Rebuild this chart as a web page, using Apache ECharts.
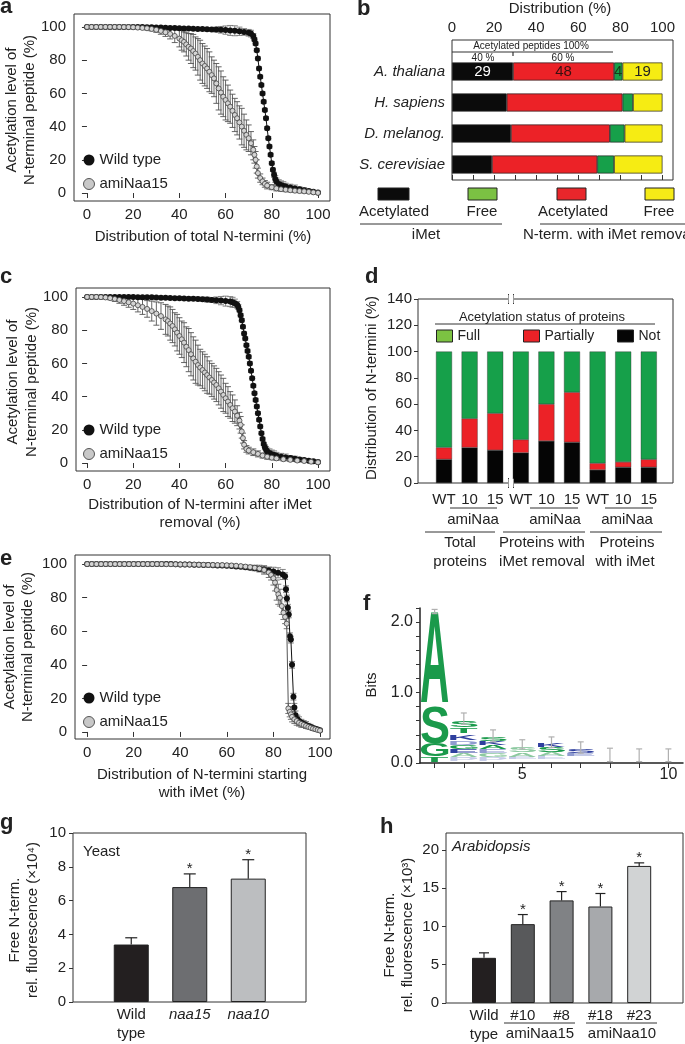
<!DOCTYPE html>
<html><head><meta charset="utf-8">
<script src="https://cdn.jsdelivr.net/npm/echarts@6/dist/echarts.min.js"></script>
<style>html,body{margin:0;padding:0;background:#fff}#c{width:685px;height:1044px}</style>
</head><body><div id="c"></div>
<script>
// ---------------- DATA ----------------
// Panel a: [distribution %, acetylation %, error]
const aWildType = [[0,100,.3],[2,100,.3],[4,100,.3],[6,100,.3],[8,100,.3],[10,100,.3],[12,100,.3],[14,100,.3],[16,100,.3],[18,100,.3],[20,100,.3],
[22,99.9,.5],[24,99.9,.5],[26,99.8,.5],[28,99.8,.5],[30,99.7,.5],[32,99.6,.5],[34,99.5,.5],[36,99.4,.5],[38,99.3,.5],[40,99.2,.5],[42,99.1,.5],[44,99,.5],[46,98.9,.5],[48,98.8,.5],[50,98.7,.8],[52,98.6,1],[54,98.5,1],[56,98.4,1.5],[58,98.3,2],[60,98.1,2.5],[62,97.9,3],[64,97.7,3],[66,97.4,2.5],[68,97,2],[70,96.5,2],[71,96,2],[72,94.5,1.5],
[72.5,92.5,1],[73,90,1],[73.5,86,1],[74,81,1],[74.5,75,1],[75,70,1],[75.5,65,1],[76,60,1],[76.5,55,1],[77,50,1],[77.5,45,1],[78,39,1],[78.5,33,1],[79,28,1],[79.5,23,1],[80,18,1],[80.5,14,1],[81,11,1.5],[81.5,8.5,2],[82,7,2],
[83,5.5,2.5],[84,4.8,2.5],[85,4.3,2.5],[86,3.9,2],[88,3.3,2],[90,2.8,2],[92,2.2,1.5],[94,1.7,1.5],[96,1.2,1],[98,.7,.5],[100,.3,.3]];
const aAmiNaa15 = [[0,100,.3],[2,100,.3],[4,100,.3],[6,100,.3],[8,100,.3],[10,100,.3],[12,100,.3],[14,100,.3],[16,99.9,.4],[18,99.9,.5],[20,99.8,.5],[22,99.6,.6],[24,99.4,.8],[26,99.2,1],[28,98.8,1.2],[30,98.3,1.5],[32,97.6,2],[34,96.8,2.5],[36,95.8,3],[38,94.6,4],[40,93,5],[41,92,6],[42,91,6],[43,89.5,7],[44,88,8],[45,87,9],[46,85.5,10],[47,84,10],[48,82,11],[49,80,12],[50,78,12],[51,76.5,12],[52,75,12],[53,73,12],[54,71,11],[55,69,11],[56,66,12],[57,63,13],[58,60.5,13],[59,58,12],[60,56,12],[61,54,11],[62,52,10],[63,49.5,10],[64,47,10],[65,45,10],[66,42.5,10],[67,40,11],[68,37.5,10],[69,35,9],[70,33,8],[71,30,7],[72,26,6],[72.5,23,5],[73,20,5],[73.5,16,4],[74,12,3],[75,9,2.5],[76,7,2],[77,5.5,2],[78,4.5,2],[80,3.5,1.5],[82,2.8,1.5],[84,2.3,1.2],[86,2,1.2],[88,1.7,1],[90,1.4,1],[92,1.2,1],[94,1,.8],[96,.7,.6],[98,.4,.5],[100,.1,.3]];

// Panel b
const bSpecies = ['A. thaliana','H. sapiens','D. melanog.','S. cerevisiae'];
const bAcetylatedIMet = [29,26,28,19];
const bAcetylatedRemoved = [48,55,47,50];
const bFreeIMet = [4,5,7,8];
const bFreeRemoved = [19,14,18,23];
const bTicks = [0,20,40,60,80,100];

// Panel c
const cWildType = [[0,100,.3],[2,100,.3],[4,100,.3],[6,100,.3],[8,100,.3],[10,100,.3],[12,100,.3],[14,100,.3],[16,100,.3],[18,100,.3],[20,100,.3],[22,99.9,.4],[24,99.9,.4],[26,99.8,.5],[28,99.8,.5],[30,99.7,.5],[32,99.6,.5],[34,99.5,.5],[36,99.4,.6],[38,99.3,.6],[40,99.2,.7],[42,99.1,.8],[44,99,.8],[46,98.9,1],[48,98.8,1],[50,98.6,1.2],[52,98.4,1.5],[54,98.2,1.5],[56,98,2],[58,97.8,2.5],[60,97.5,3],[62,97.2,3],[63,96.8,3],[64,96.2,2.5],[65,95.3,2],[65.5,94,1.5],[66,92,1],[66.5,89,1],[67,86,1],[67.5,82,1],[68,78,1],[68.5,75,1],[69,71,1],[69.5,67.5,1],[70,64,1],[70.5,60,1],[71,55.5,1],[71.5,51,1],[72,46.5,1],[72.5,42,1],[73,38,1],[73.5,34,1],[74,30,1],[74.5,26,1],[75,22,1],[75.5,18,1],[76,14.5,1],[76.5,11.5,1],[77,9.5,1.5],[77.5,8,2],[78,7,2],[79,6,2.5],[80,5.3,2.5],[81,4.8,2.5],[82,4.4,2],[84,3.8,2],[86,3.4,2],[88,3,1.5],[90,2.6,1.5],[92,2.2,1.2],[94,1.8,1],[96,1.4,.8],[98,1,.5],[100,.6,.3]];
const cAmiNaa15 = [[0,100,.3],[2,100,.3],[4,100,.3],[6,99.9,.4],[8,99.7,.6],[10,99.3,1],[12,98.8,1.5],[14,98.2,2],[16,97.5,2.5],[18,96.8,3],[20,96,3.5],[22,95,4],[24,94,4.5],[26,92.8,5],[28,91.5,6],[30,90,7],[32,88.5,8],[34,86.5,9],[35,85.5,9],[36,84,10],[37,82.5,10],[38,80.5,10],[39,78.5,11],[40,76.5,11],[41,74.5,11],[42,72.5,12],[43,70,12],[44,68,13],[45,65.5,13],[46,63,13],[47,61,13],[48,59,12],[49,57.5,11],[50,56,11],[51,54.5,11],[52,53,11],[53,51.5,10],[54,50,10],[55,48.5,10],[56,47,10],[57,45,10],[58,43,10],[59,41,10],[60,39,9],[61,37,9],[62,35,8],[63,33,8],[64,31,7],[65,28.5,6],[66,25.5,5],[66.5,23,5],[67,19,4],[67.5,15,3],[68,11,2.5],[69,8.5,2],[70,7.5,2],[72,6.5,2],[74,5.5,1.8],[76,4.5,1.5],[78,3.8,1.5],[80,3.2,1.2],[82,2.8,1.2],[85,2.3,1],[88,1.9,1],[91,1.5,.8],[94,1.2,.6],[97,.8,.5],[100,.4,.3]];

// Panel d
const dCategories = ['WT','10','15','WT','10','15','WT','10','15'];
const dNot = [18,27,25,23,32,31,10,12,12];
const dPartially = [9,22,28,10,28,38,5,4,6];
const dFull = [73,51,47,67,40,31,85,84,82];

// Panel e
const eWildType = [[0,100,.2],[2,100,.2],[4,100,.2],[6,100,.2],[8,100,.2],[10,100,.2],[12,100,.2],[14,100,.2],[16,100,.2],[18,100,.2],[20,100,.2],[22,100,.2],[24,100,.2],[26,100,.2],[28,100,.2],[30,100,.2],[32,100,.2],[34,100,.2],[36,100,.2],[38,99.9,.2],[40,99.8,.3],[42,99.8,.3],[44,99.7,.3],[46,99.6,.4],[48,99.6,.4],[50,99.5,.5],[52,99.4,.5],[54,99.3,.5],[56,99.2,.6],[58,99.1,.6],[60,99,.7],[62,98.8,.8],[64,98.6,.8],[66,98.4,1],[68,98.1,1],[70,97.8,1.2],[72,97.5,1.5],[74,97.1,1.5],[76,96.7,2],[78,96.2,2],[80,95.6,2.5],[82,94.8,3],[84,93.8,3],[85,92.8,2],[85.4,85,2],[85.8,79.5,2],[86.2,74,2],[86.6,70,2],[87.1,57,2],[87.5,55,2],[88,40,2],[88.6,21,2],[89,14.5,2.5],[89.5,10,2.5],[90.3,7.5,2.5],[91,6.5,2.5],[92,5.5,2],[93,4.8,2],[94,4.2,2],[95,3.6,1.5],[96,3,1.5],[97,2.4,1],[98,1.9,1],[99,1.4,.5],[100,1,.3]];
const eAmiNaa15 = [[0,100,.2],[2,100,.2],[4,100,.2],[6,100,.2],[8,100,.2],[10,100,.2],[12,100,.2],[14,100,.2],[16,100,.2],[18,100,.2],[20,100,.2],[22,100,.2],[24,100,.2],[26,100,.2],[28,100,.2],[30,100,.2],[32,100,.2],[34,99.9,.2],[36,99.9,.2],[38,99.9,.2],[40,99.8,.2],[42,99.8,.2],[44,99.7,.2],[46,99.7,.2],[48,99.6,.2],[50,99.6,.3],[52,99.5,.3],[54,99.5,.3],[56,99.4,.3],[58,99.4,.3],[60,99.3,.3],[62,99.2,.4],[64,99,.5],[66,98.8,.6],[68,98.5,.8],[70,98.2,1],[72,97.8,1.5],[74,97.3,2],[76,96.5,2.5],[78,95,3],[79,93.5,3],[80,91.5,4],[80.7,89,5],[81.4,84.5,6],[82.1,82,6],[82.8,80,5],[83.6,75,5],[84.3,71,4],[85,68.5,4],[85.7,64.5,3],[86.4,14,3],[87,12,3],[87.5,10.5,3],[88,9,3],[89,7.5,2.5],[90,6.5,2.5],[91,5.5,2],[92,4.8,2],[93,4.2,1.5],[94,3.6,1.5],[95,3,1.2],[96,2.5,1],[97,2,1],[98,1.6,.8],[99,1.2,.5],[100,.8,.3]];
const curveTicks = [0,20,40,60,80,100];

// Panel f: sequence logo [position, letter, bottom bits, top bits, colour]
const fLetters = [
 [2,'T',0.02,0.09,'#1a9a4b'],[2,'G',0.09,0.27,'#1a9a4b'],[2,'S',0.28,0.80,'#1a9a4b'],[2,'A',0.86,2.15,'#1a9a4b'],
 [3,'P',0.03,0.08,'#c5cbe8'],[3,'A',0.08,0.14,'#8cc9a0'],[3,'E',0.14,0.20,'#2e3f9e'],[3,'G',0.20,0.26,'#1a9a4b'],[3,'D',0.26,0.32,'#8f9bd0'],[3,'K',0.33,0.41,'#2e3f9e'],[3,'T',0.42,0.50,'#1a9a4b'],[3,'S',0.51,0.60,'#1a9a4b'],
 [4,'P',0.03,0.08,'#c5cbe8'],[4,'G',0.08,0.14,'#8cc9a0'],[4,'E',0.14,0.20,'#8f9bd0'],[4,'A',0.20,0.26,'#1a9a4b'],[4,'K',0.26,0.31,'#2e3f9e'],[4,'S',0.31,0.36,'#1a9a4b'],
 [5,'E',0.05,0.09,'#c5cbe8'],[5,'A',0.09,0.15,'#8cc9a0'],[5,'S',0.15,0.23,'#8cc9a0'],
 [6,'E',0.05,0.10,'#c5cbe8'],[6,'A',0.10,0.16,'#8cc9a0'],[6,'S',0.16,0.23,'#1a9a4b'],[6,'K',0.23,0.29,'#2e3f9e'],
 [7,'E',0.10,0.14,'#8f9bd0'],[7,'S',0.14,0.19,'#2e3f9e']
];
const fErrors = [[2,2.12,2.18],[3,0.55,0.71],[4,0.30,0.47],[5,0.20,0.33],[6,0.22,0.37],[7,0.14,0.30],[8,0.02,0.21],[9,0.02,0.20],[10,0.02,0.20]];
const fYTicks = [0,0.2,0.4,0.6,0.8,1,1.2,1.4,1.6,1.8,2,2.2];
const fYLabels = [0,1,2];
const fXTicks = [2,3,4,5,6,7,8,9,10];
const fXLabels = [5,10];

// Panel g
const gStrains = ['Wild\ntype','naa15','naa10'];
const gValues = [3.4,6.8,7.3];
const gErrors = [0.4,0.78,1.12];
const gSignificant = [0,1,1];
const gTicks = [0,2,4,6,8,10];

// Panel h
const hLines = ['Wild\ntype','#10','#8','#18','#23'];
const hValues = [5.9,10.3,13.4,12.6,17.9];
const hErrors = [0.65,1.25,1.15,1.7,0.4];
const hSignificant = [0,1,1,1,1];
const hTicks = [0,5,10,15,20];

// ---------------- STYLE ----------------
const FONT = "'Liberation Sans', Arial, Helvetica, sans-serif";
const C = '#222';
const chart = echarts.init(document.getElementById('c'), null, {renderer:'canvas'});

const lab = (vals, margin, extra) => Object.assign({show:true, customValues:vals, fontSize:15, color:C, fontFamily:FONT, margin}, extra||{});
const tick = (vals, len, inside) => ({show:true, customValues:vals, length:len, inside:!!inside, lineStyle:{color:'#333', width:1}});
const hid = (g, min, max) => ({type:'value', gridIndex:g, min, max, show:false, splitLine:{show:false}});
const valAx = (g, min, max, ticks, margin, extra) => Object.assign({type:'value', gridIndex:g, min, max, splitLine:{show:false}, axisLine:{show:false}, axisTick:tick(ticks,5), axisLabel:lab(ticks,margin)}, extra||{});
const frame = (left, top, width, height) => ({left, top, width, height, show:true, borderColor:'#333', borderWidth:1, backgroundColor:'transparent', containLabel:false});
const noframe = (left, top, width, height) => ({left, top, width, height, show:false, containLabel:false});

const grids = [
 frame(74,14,256,187),      // 0 a
 frame(452,40,221,140),     // 1 b frame
 noframe(452,56,221,124),   // 2 b bars
 frame(76,288,254,183),     // 3 c
 frame(418,299,255,184),    // 4 d frame
 noframe(431.2,299,230.4,184), // 5 d bars
 frame(75,555,255,184),     // 6 e
 noframe(420,608,263,155),  // 7 f
 frame(73,833,233,169),     // 8 g frame
 noframe(102,833,175.5,169),// 9 g bars
 frame(446,833,237,170),    // 10 h frame
 noframe(464.6,833,194,170) // 11 h bars
];

const xAxis = [
 valAx(0,-5.6,105.2,curveTicks,6),
 {type:'value', gridIndex:1, position:'top', min:0, max:105, splitLine:{show:false}, axisLine:{show:false}, axisTick:{show:false}, axisLabel:lab(bTicks,5)},
 {type:'value', gridIndex:1, position:'bottom', min:0, max:105, splitLine:{show:false}, axisLine:{show:false}, axisTick:tick([0,10,20,30,40,50,60,70,80,90,100],5,true), axisLabel:{show:false}},
 hid(2,0,105),
 valAx(3,-4.8,105.2,curveTicks,6),
 hid(4,0,1),
 {type:'category', gridIndex:5, data:dCategories, axisLine:{show:false}, axisTick:{show:false}, axisLabel:{fontSize:15, color:C, fontFamily:FONT, margin:9, interval:0, hideOverlap:false}},
 valAx(6,-5.2,104.3,curveTicks,6),
 {type:'value', gridIndex:7, min:1.5, max:10.5, splitLine:{show:false}, axisLine:{show:true, lineStyle:{color:'#222', width:1.5}}, axisTick:tick(fXTicks,5), axisLabel:lab(fXLabels,4,{fontSize:16})},
 hid(8,0,1),
 {type:'category', gridIndex:9, data:gStrains, axisLine:{show:false}, axisTick:{show:false},
  axisLabel:{fontSize:15, color:C, fontFamily:FONT, margin:3, lineHeight:19, interval:0,
   formatter:(v,i)=> i===0 ? v : '{it|'+v+'}', rich:{it:{fontStyle:'italic', fontSize:15, color:C, fontFamily:FONT, lineHeight:19}}}},
 hid(10,0,1),
 {type:'category', gridIndex:11, data:hLines, axisLine:{show:false}, axisTick:{show:false},
  axisLabel:{fontSize:15, color:C, fontFamily:FONT, margin:3, lineHeight:19, interval:0}}
];

const yAxis = [
 valAx(0,-4.8,107.8,curveTicks,8),
 hid(1,0,1),
 {type:'category', gridIndex:2, data:bSpecies, inverse:true, axisLine:{show:false}, axisTick:{show:false}, axisLabel:{fontSize:15, fontStyle:'italic', color:C, fontFamily:FONT, margin:7}},
 valAx(3,-4.8,105.4,curveTicks,8),
 Object.assign(valAx(4,0,140,[0,20,40,60,80,100,120,140],6), {axisTick:tick([0,20,40,60,80,100,120,140],4)}),
 hid(5,0,140),
 valAx(6,-4.2,105.4,curveTicks,8),
 {type:'value', gridIndex:7, min:0, max:2.2, splitLine:{show:false}, axisLine:{show:true, lineStyle:{color:'#222', width:1.5}}, axisTick:tick(fYTicks,4), axisLabel:lab(fYLabels,7,{fontSize:16, formatter:v=>Number(v).toFixed(1)})},
 Object.assign(valAx(8,0,10,gTicks,7), {axisTick:tick(gTicks,4)}),
 hid(9,0,10),
 Object.assign(valAx(10,0,22.2,hTicks,7), {axisTick:tick(hTicks,4)}),
 hid(11,0,22.2)
];

// ---------- series helpers ----------
function curve(xi, yi, name, data) {
  const wt = name === 'Wild type';
  return {type:'line', name, xAxisIndex:xi, yAxisIndex:yi, data, encode:{x:0,y:1},
    symbol:'circle', showAllSymbol:true, symbolSize: wt?6:5, silent:true, z: wt?3:4,
    itemStyle: wt ? {color:'#111'} : {color:'#d4d4d4', borderColor:'#444', borderWidth:0.8},
    lineStyle: {color: wt?'#111':'#555', width:1}};
}
function errBars(xi, yi, data, color) {
  return {type:'custom', xAxisIndex:xi, yAxisIndex:yi, data, encode:{x:0,y:1}, silent:true, z:2,
    renderItem(params, api) {
      const x=api.value(0), y=api.value(1), e=api.value(2);
      const lo=api.coord([x,y-e]), hi=api.coord([x,y+e]); const w=3;
      const st={stroke:color, lineWidth:0.9};
      return {type:'group', children:[
        {type:'line', shape:{x1:lo[0],y1:lo[1],x2:hi[0],y2:hi[1]}, style:st},
        {type:'line', shape:{x1:lo[0]-w,y1:lo[1],x2:lo[0]+w,y2:lo[1]}, style:st},
        {type:'line', shape:{x1:hi[0]-w,y1:hi[1],x2:hi[0]+w,y2:hi[1]}, style:st}]};
    }};
}
function barErr(xi, yi, vals, errs, sig, capHalf) {
  return {type:'custom', xAxisIndex:xi, yAxisIndex:yi, data: vals.map((v,i)=>[i,v,errs[i],sig[i]]), encode:{x:0,y:1}, silent:true, z:5,
    renderItem(params, api) {
      const i=api.value(0), v=api.value(1), e=api.value(2), s=api.value(3);
      const b=api.coord([i,v]), t=api.coord([i,v+e]);
      const st={stroke:'#222', lineWidth:1.2};
      const ch=[{type:'line', shape:{x1:b[0],y1:b[1],x2:t[0],y2:t[1]}, style:st},
                {type:'line', shape:{x1:t[0]-capHalf,y1:t[1],x2:t[0]+capHalf,y2:t[1]}, style:st}];
      if (s) ch.push({type:'text', x:t[0], y:t[1]-5, style:{text:'*', font:'15px '+FONT, fill:'#222', align:'center', verticalAlign:'middle'}});
      return {type:'group', children:ch};
    }};
}
const mctx = document.createElement('canvas').getContext('2d');
mctx.font = 'bold 100px ' + FONT; mctx.textBaseline = 'middle'; mctx.textAlign = 'center';
const inkCache = {};
function ink(ch){ if(!inkCache[ch]){ const m=mctx.measureText(ch); inkCache[ch]={l:m.actualBoundingBoxLeft, r:m.actualBoundingBoxRight, a:m.actualBoundingBoxAscent, d:m.actualBoundingBoxDescent}; } return inkCache[ch]; }

const bColors = ['#0b0b0b','#ec2227','#16a04a','#f6ec13'];
function bSeries(name, vals, color, labColor) {
  return {type:'bar', name, xAxisIndex:3, yAxisIndex:2, stack:'b', barWidth:18, silent:true,
    itemStyle:{color, borderColor:'#222', borderWidth:0.7},
    label:{show:false, position:'inside', color:labColor, fontSize:15, fontFamily:FONT},
    data: vals.map((v,i)=> i===0 ? {value:v, label:{show:true}} : v)};
}
function dSeries(name, vals, color) {
  return {type:'bar', name, xAxisIndex:6, yAxisIndex:5, stack:'d', barWidth:16, silent:true,
    itemStyle:{color, borderColor:'#333', borderWidth:0.4}, data: vals};
}

const series = [
 // a
 errBars(0,0,aWildType,'#777'), errBars(0,0,aAmiNaa15,'#555'),
 curve(0,0,'Wild type',aWildType), curve(0,0,'amiNaa15',aAmiNaa15),
 // b
 bSeries('Acetylated iMet', bAcetylatedIMet, bColors[0], '#fff'),
 bSeries('Acetylated N-term. with iMet removal', bAcetylatedRemoved, bColors[1], '#3a1010'),
 bSeries('Free iMet', bFreeIMet, bColors[2], '#1a3a1a'),
 bSeries('Free N-term. with iMet removal', bFreeRemoved, bColors[3], '#222'),
 // c
 errBars(4,3,cWildType,'#777'), errBars(4,3,cAmiNaa15,'#555'),
 curve(4,3,'Wild type',cWildType), curve(4,3,'amiNaa15',cAmiNaa15),
 // d
 dSeries('Not', dNot, '#050505'), dSeries('Partially', dPartially, '#ec2227'), dSeries('Full', dFull, '#16a04a'),
 // e
 errBars(7,6,eWildType,'#777'), errBars(7,6,eAmiNaa15,'#666'),
 curve(7,6,'Wild type',eWildType), curve(7,6,'amiNaa15',eAmiNaa15),
 // f logo
 {type:'custom', xAxisIndex:8, yAxisIndex:7, silent:true, z:3,
  data: fLetters.map(r=>[r[0], r[2], r[3]]), encode:{x:0, y:[1,2]},
  renderItem(params, api) {
    const r = fLetters[params.dataIndex];
    const p0 = api.coord([r[0]-0.47, r[2]]), p1 = api.coord([r[0]+0.47, r[3]]);
    const k = ink(r[1]);
    const sx = (p1[0]-p0[0])/(k.l+k.r), sy = (p0[1]-p1[1])/(k.a+k.d);
    return {type:'text', x: p0[0] + k.l*sx, y: p1[1] + k.a*sy, scaleX:sx, scaleY:sy,
      style:{text:r[1], font:'bold 100px '+FONT, fill:r[4], align:'center', verticalAlign:'middle'}};
  }},
 {type:'custom', xAxisIndex:8, yAxisIndex:7, silent:true, z:4,
  data: fErrors, encode:{x:0, y:[1,2]},
  renderItem(params, api) {
    const x=api.value(0); const lo=api.coord([x,api.value(1)]), hi=api.coord([x,api.value(2)]);
    const st={stroke:'#b0b0b0', lineWidth:1.2}; const w=3;
    return {type:'group', children:[
      {type:'line', shape:{x1:lo[0],y1:lo[1],x2:hi[0],y2:hi[1]}, style:st},
      {type:'line', shape:{x1:lo[0]-w,y1:lo[1],x2:lo[0]+w,y2:lo[1]}, style:st},
      {type:'line', shape:{x1:hi[0]-w,y1:hi[1],x2:hi[0]+w,y2:hi[1]}, style:st}]};
  }},
 // g
 {type:'bar', xAxisIndex:10, yAxisIndex:9, barWidth:35, silent:true,
  data: gValues.map((v,i)=>({value:v, itemStyle:{color:['#231f20','#6d6e71','#bcbec0'][i], borderColor:'#222', borderWidth:1}}))},
 barErr(10,9,gValues,gErrors,gSignificant,6),
 // h
 {type:'bar', xAxisIndex:12, yAxisIndex:11, barWidth:24, silent:true,
  data: hValues.map((v,i)=>({value:v, itemStyle:{color:['#231f20','#58595b','#808285','#a7a9ac','#d1d3d4'][i], borderColor:'#222', borderWidth:1}}))},
 barErr(12,11,hValues,hErrors,hSignificant,5)
];

// ---------- legends ----------
const curveLegend = (top) => ({left:83, top, orient:'vertical', itemGap:9, padding:0, icon:'circle', itemWidth:11, itemHeight:11,
  selectedMode:false, textStyle:{fontSize:15, color:C, fontFamily:FONT},
  data:[{name:'Wild type', itemStyle:{color:'#111', borderWidth:0}}, {name:'amiNaa15', itemStyle:{color:'#c8c8c8', borderColor:'#555', borderWidth:1}}]});
const dLegend = (left, name, color) => ({left, top:329, padding:0, icon:'rect', itemWidth:16, itemHeight:12, selectedMode:false,
  textStyle:{fontSize:14, color:C, fontFamily:FONT}, data:[{name, itemStyle:{color, borderColor:'#222', borderWidth:1}}]});
const legend = [curveLegend(152.5), curveLegend(422.5), curveLegend(690.5),
  dLegend(436,'Full','#7cc242'), dLegend(523,'Partially','#ec2227'), dLegend(617,'Not','#050505')];

// ---------- graphics (titles, annotations) ----------
const T = (x, y, text, o) => ({type:'text', x, y, silent:true, z:50, style:Object.assign({text, fill:C, font:'15px '+FONT, align:'center', verticalAlign:'middle'}, o||{})});
const V = (x, y, text, o) => ({type:'text', x, y, rotation:Math.PI/2, silent:true, z:50, style:Object.assign({text, fill:C, font:'15px '+FONT, align:'center', verticalAlign:'middle'}, o||{})});
const L = (x1, y1, x2, y2, w) => ({type:'line', silent:true, z:50, shape:{x1,y1,x2,y2}, style:{stroke:'#333', lineWidth:w||1}});
const R = (x, y, w, h, fill) => ({type:'rect', silent:true, z:50, shape:{x,y,width:w,height:h}, style:{fill, stroke:'#222', lineWidth:1}});
const P = (x, y, t) => T(x, y, t, {font:'bold 22px '+FONT, align:'left'});
const brk = (x, y) => [{type:'rect', silent:true, z:60, shape:{x:x-2.5, y:y-4, width:5, height:8}, style:{fill:'#fff'}}, L(x-2.5,y-5,x-2.5,y+5), L(x+2.5,y-5,x+2.5,y+5)];

const graphic = [
 P(0,7,'a'), P(357,9,'b'), P(0,277,'c'), P(365,277,'d'), P(0,559,'e'), P(363,604,'f'), P(0,823,'g'), P(380,827,'h'),
 // a
 T(203,237,'Distribution of total N-termini (%)'),
 V(12,110,'Acetylation level of'), V(30,110,'N-terminal peptide (%)'),
 // b
 T(560,9,'Distribution (%)'),
 T(531,46,'Acetylated peptides 100%',{font:'10px '+FONT}),
 L(452,52,613,52,1.2), L(513,52,513,56,1.2),
 T(483,58,'40 %',{font:'10px '+FONT}), T(563,58,'60 %',{font:'10px '+FONT}),
 R(378,188,31,12,'#0b0b0b'), R(468,188,29,12,'#7bc143'), R(557,188,29,12,'#e8262b'), R(645,188,29,12,'#f5eb17'),
 T(394,212,'Acetylated'), T(482,212,'Free'), T(573,212,'Acetylated'), T(659,212,'Free'),
 L(360,224,502,224), L(540,224,690,224),
 T(426,235,'iMet'), T(523,235,'N-term. with iMet removal',{align:'left'}),
 // c
 T(200,505,'Distribution of N-termini after iMet'), T(200,523,'removal (%)'),
 V(13,382,'Acetylation level of'), V(32,382,'N-terminal peptide (%)'),
 // d
 V(372,388,'Distribution of N-termini (%)'),
 T(542,317,'Acetylation status of proteins',{font:'13px '+FONT}),
 L(435,324,655,324),
 ...brk(511,299), ...brk(511,483),
 L(450,508,497,508), L(530,508,578,508), L(605,508,653,508),
 T(473,520,'amiNaa'), T(555,520,'amiNaa'), T(627,520,'amiNaa'),
 L(425,532,495,532), L(503,532,585,532), L(590,532,662,532),
 T(460,543,'Total'), T(542,543,'Proteins with'), T(627,543,'Proteins'),
 T(460,562,'proteins'), T(542,562,'iMet removal'), T(625,562,'with iMet'),
 // e
 T(202,775,'Distribution of N-termini starting'), T(202,793,'with iMet (%)'),
 V(10,647,'Acetylation level of'), V(28,647,'N-terminal peptide (%)'),
 // f
 V(372,685,'Bits'),
 // g
 T(83,852,'Yeast',{align:'left'}),
 V(15,920,'Free N-term.'), V(33,920,'rel. fluorescence (×10⁴)'),
 // h
 T(452,847,'Arabidopsis',{align:'left', font:'italic 15px '+FONT}),
 V(390,935,'Free N-term.'), V(408,935,'rel. fluorescence (×10³)'),
 L(504,1023,575,1023), L(586,1023,657,1023),
 T(540,1034,'amiNaa15'), T(622,1034,'amiNaa10')
];

chart.setOption({
  animation:false, backgroundColor:'#fff',
  textStyle:{fontFamily:FONT},
  grid:grids, xAxis, yAxis, series, legend, graphic
});
</script></body></html>
